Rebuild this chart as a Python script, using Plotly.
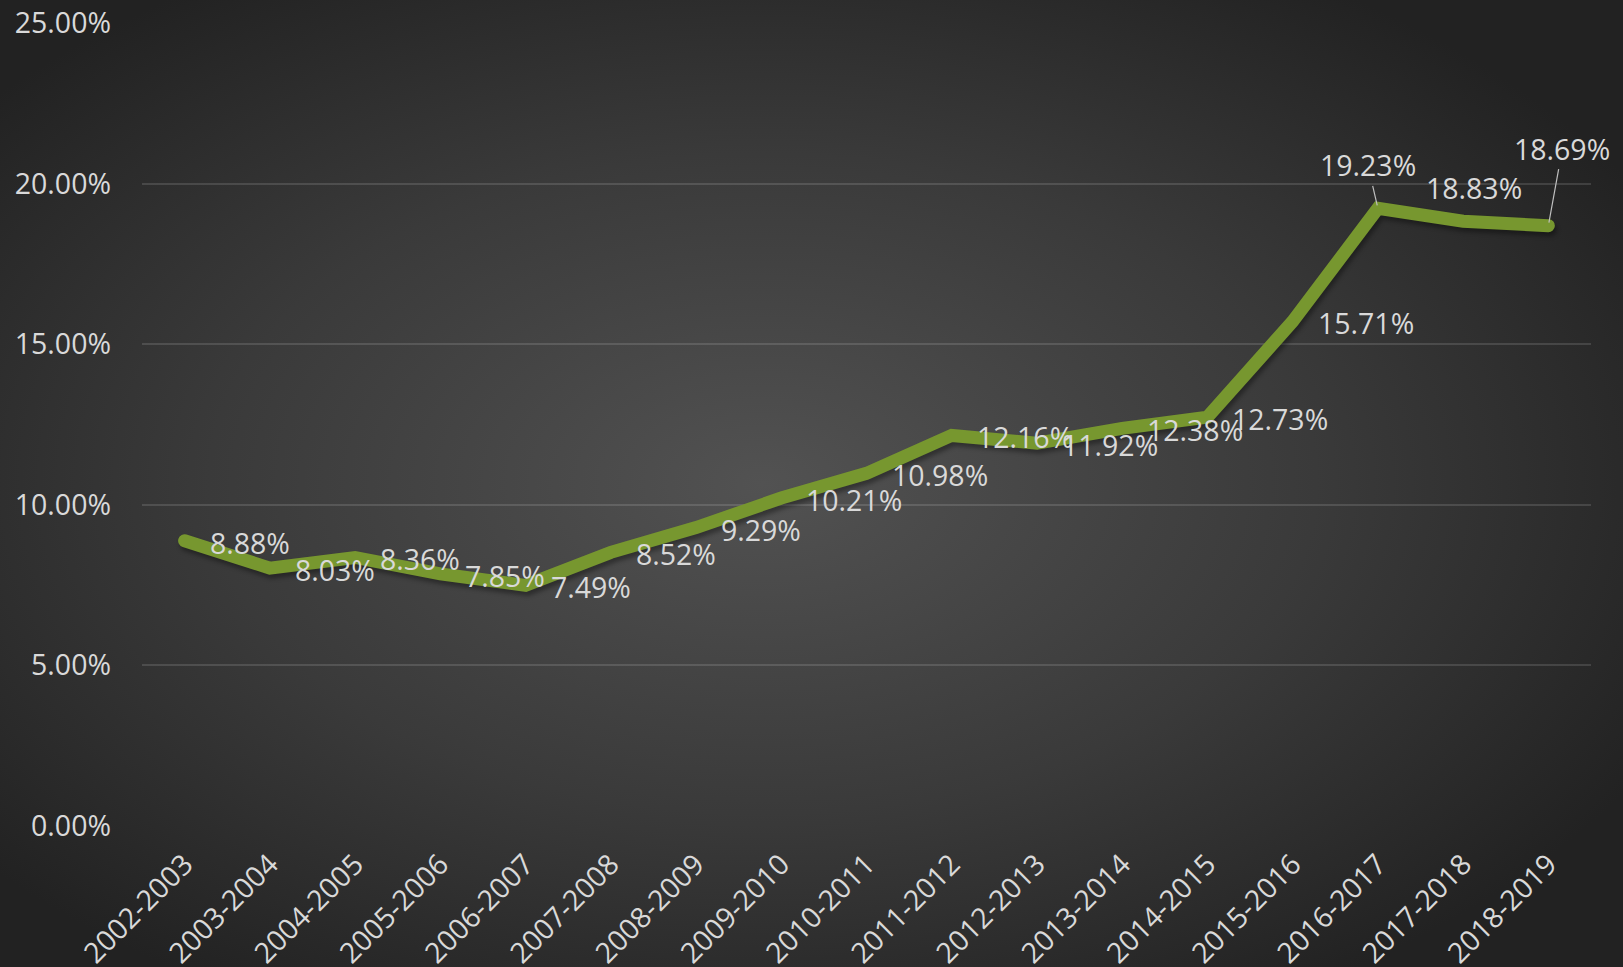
import base64
import plotly.graph_objects as go

categories = ["2002-2003", "2003-2004", "2004-2005", "2005-2006", "2006-2007",
              "2007-2008", "2008-2009", "2009-2010", "2010-2011", "2011-2012",
              "2012-2013", "2013-2014", "2014-2015", "2015-2016", "2016-2017",
              "2017-2018", "2018-2019"]
values = [8.88, 8.03, 8.36, 7.85, 7.49, 8.52, 9.29, 10.21, 10.98, 12.16,
          11.92, 12.38, 12.73, 15.71, 19.23, 18.83, 18.69]
y_ticks = [0, 5, 10, 15, 20, 25]

W, H = 1623, 967
ML, MR, MT, MB = 142, 32, 23, 141
PW, PH = W - ML - MR, H - MT - MB

FONT = "Open Sans"
FS = 28.5
TXT = "#d9d9d9"
LINE = "#77972f"

svg = f'''<svg xmlns="http://www.w3.org/2000/svg" width="{W}" height="{H}" viewBox="0 0 {W} {H}" preserveAspectRatio="none">
<defs><radialGradient id="g" cx="47%" cy="50%" r="62%">
<stop offset="0" stop-color="#525252"/><stop offset="0.55" stop-color="#3a3a3a"/><stop offset="1" stop-color="#222222"/>
</radialGradient></defs><rect width="{W}" height="{H}" fill="url(#g)"/></svg>'''
src = "data:image/svg+xml;base64," + base64.b64encode(svg.encode()).decode()

fig = go.Figure()
# soft shadow under the line
fig.add_trace(go.Scatter(
    x=categories, y=values, mode="lines",
    line=dict(color="rgba(0,0,0,0.35)", width=13),
    hoverinfo="skip", showlegend=False,
))
fig.add_trace(go.Scatter(
    x=categories, y=values, mode="lines",
    line=dict(color=LINE, width=13, shape="linear"),
    hoverinfo="skip", showlegend=False,
))

lab_font = dict(family=FONT, size=FS, color=TXT)
annotations = []
for i, (c, v) in enumerate(zip(categories, values)):
    label = f"{v:.2f}%"
    if i == 14:
        annotations.append(dict(x=c, y=v, text=label, showarrow=True, arrowhead=0,
                                arrowwidth=1.2, arrowcolor="#bfbfbf", ax=-10, ay=-43,
                                standoff=3, font=lab_font))
    elif i == 15:
        annotations.append(dict(x=c, y=v, text=label, showarrow=False,
                                xanchor="center", yanchor="middle", xshift=11, yshift=33,
                                font=lab_font))
    elif i == 16:
        annotations.append(dict(x=c, y=v, text=label, showarrow=True, arrowhead=0,
                                arrowwidth=1.2, arrowcolor="#bfbfbf", ax=14, ay=-77,
                                standoff=3, font=lab_font))
    else:
        annotations.append(dict(x=c, y=v, text=label, showarrow=False,
                                xanchor="left", yanchor="middle", xshift=23, yshift=-2,
                                font=lab_font))

fig.update_layout(
    width=W, height=H,
    margin=dict(l=ML, r=MR, t=MT, b=MB, pad=0, autoexpand=False),
    paper_bgcolor="#2a2a2a", plot_bgcolor="rgba(0,0,0,0)",
    font=dict(family=FONT, color=TXT, size=FS),
    annotations=annotations,
    images=[dict(source=src, xref="paper", yref="paper",
                 x=-ML / PW, y=1 + MT / PH, sizex=W / PW, sizey=H / PH,
                 xanchor="left", yanchor="top", sizing="stretch", layer="below")],
    xaxis=dict(type="category", range=[-0.5, 16.5], showgrid=False, zeroline=False,
               showline=False, tickangle=-45, ticks="", automargin=False,
               ticklabelstandoff=15, tickfont=dict(size=FS, color=TXT)),
    yaxis=dict(range=[0, 25], tickvals=y_ticks, ticktext=[f"{t:.2f}%" for t in y_ticks],
               showgrid=True, gridcolor="rgba(255,255,255,0.13)", gridwidth=1.5,
               zeroline=False, showline=False, ticks="", ticklabelstandoff=30,
               automargin=False, tickfont=dict(size=FS, color=TXT)),
)

post = """
document.documentElement.style.margin = '0';
document.documentElement.style.overflow = 'hidden';
document.body.style.margin = '0';
document.body.style.overflow = 'hidden';
document.body.style.background = '#222';
function styleLines(){
  var paths = document.querySelectorAll('.scatterlayer .trace .js-line');
  paths.forEach(function(p, k){
    p.style.strokeLinecap = 'round';
    p.style.strokeLinejoin = 'miter';
    if (k === 0) { p.setAttribute('transform', 'translate(2,4)'); p.style.filter = 'blur(2px)'; }
  });
}
styleLines();
setTimeout(styleLines, 0);
"""

fig.write_html("out.html", post_script=post, config={"displayModeBar": False})
